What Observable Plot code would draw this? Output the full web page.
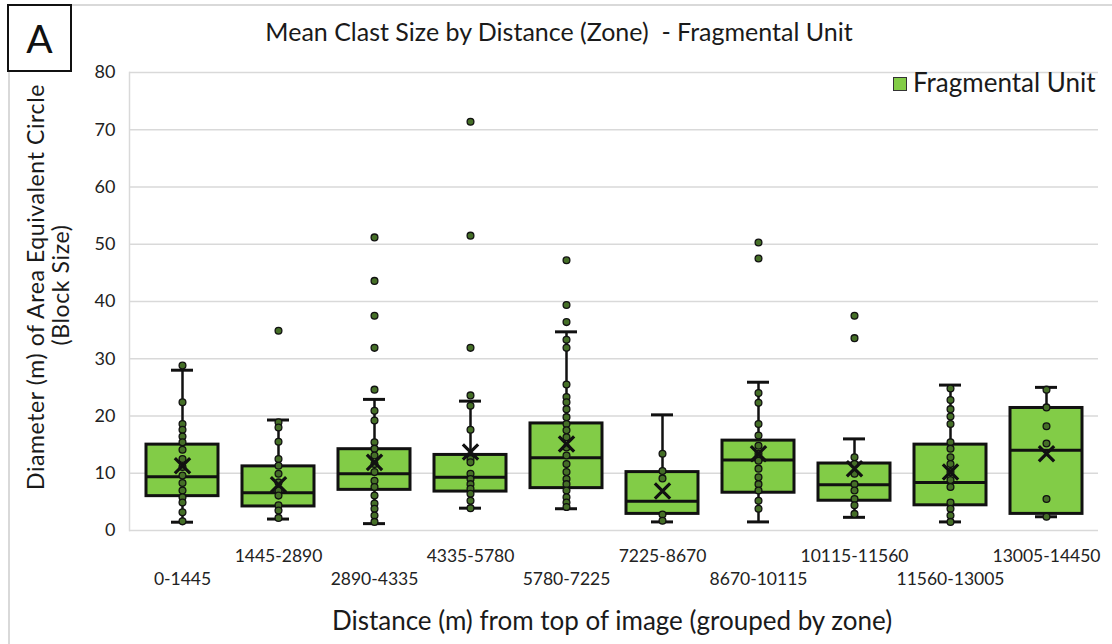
<!DOCTYPE html>
<html>
<head>
<meta charset="utf-8">
<script src="https://cdn.jsdelivr.net/npm/d3@7"></script>
<script src="https://cdn.jsdelivr.net/npm/@observablehq/plot@0.6"></script>
<style>
  html, body { margin: 0; padding: 0; background: #fff; }
  #wrap { position: relative; width: 1112px; height: 644px; overflow: hidden; background: #fff; font-family: Lato, "Open Sans", sans-serif; color: #1a1a1a; }
  #chart { position: absolute; left: 0; top: 0; }
  .abs { position: absolute; line-height: 1; white-space: pre; }
  #frame { position: absolute; left: 8px; top: 4px; width: 1300px; height: 800px; border-top: 2px solid #d9d9d9; border-left: 2px solid #d9d9d9; }
  #panel { position: absolute; left: 7px; top: 4px; width: 65px; height: 68px; box-sizing: border-box; border: 2.5px solid #111; background: #fff; font-size: 39px; display: flex; align-items: center; justify-content: center; color: #111; }
  #title { left: 559px; top: 19px; transform: translateX(-50%); font-size: 25px; }
  #legend-swatch { position: absolute; left: 893px; top: 77px; width: 14px; height: 14px; box-sizing: border-box; background: #82cc47; border: 1.5px solid #333; }
  #legend-text { left: 913px; top: 69px; font-size: 26px; }
  .ytitle { position: absolute; font-size: 23px; letter-spacing: 0.6px; line-height: 1; white-space: pre; transform: translate(-50%, -50%) rotate(-90deg); }
  #xtitle { left: 612px; top: 607px; transform: translateX(-50%); font-size: 26px; }
</style>
</head>
<body>
<div id="wrap">
  <div id="frame"></div>
  <div id="chart"></div>
  <div id="panel">A</div>
  <div id="title" class="abs">Mean Clast Size by Distance (Zone)  - Fragmental Unit</div>
  <div id="legend-swatch"></div>
  <div id="legend-text" class="abs">Fragmental Unit</div>
  <div class="ytitle" style="left:35px; top:287px;">Diameter (m) of Area Equivalent Circle</div>
  <div class="ytitle" style="left:60px; top:285px;">(Block Size)</div>
  <div id="xtitle" class="abs">Distance (m) from top of image (grouped by zone)</div>
</div>
<script>
// Zones (x categories)
const categories = ["0-1445", "1445-2890", "2890-4335", "4335-5780", "5780-7225",
                    "7225-8670", "8670-10115", "10115-11560", "11560-13005", "13005-14450"];
// Box statistics
const q1          = [6.0, 4.2, 7.1, 6.8, 7.4, 2.9, 6.6, 5.2, 4.4, 2.9];
const median      = [9.4, 6.6, 9.9, 9.3, 12.7, 5.1, 12.3, 8.0, 8.4, 14.0];
const q3          = [15.0, 11.2, 14.2, 13.2, 18.7, 10.2, 15.7, 11.7, 15.0, 21.4];
const whiskerLow  = [1.45, 2.0, 1.2, 3.9, 3.8, 1.5, 1.5, 2.3, 1.5, 2.4];
const whiskerHigh = [28.0, 19.3, 22.9, 22.6, 34.7, 20.2, 25.9, 16.0, 25.4, 25.0];
const meanValues  = [11.3, 8.0, 11.9, 13.7, 15.1, 6.9, 13.4, 10.8, 10.2, 13.4];
// Individual clast points per zone (inner points and outliers)
const pts0 = [28.8, 22.4, 18.6, 17.6, 16.4, 15.4, 14.1, 12.5, 11.1, 9.6, 8.3, 7.0, 5.8, 4.9, 3.2, 1.6];
const pts1 = [34.9, 18.9, 18.0, 15.5, 12.5, 11.3, 9.9, 8.4, 7.0, 6.1, 4.4, 3.5, 2.2];
const pts2 = [51.2, 43.6, 37.5, 31.9, 24.6, 20.9, 19.2, 15.4, 14.3, 13.1, 11.6, 10.2, 8.7, 7.6, 6.1, 4.7, 3.8, 2.6, 1.5];
const pts3 = [71.4, 51.5, 31.9, 23.6, 21.8, 17.6, 12.5, 11.9, 9.9, 9.0, 8.1, 7.3, 6.4, 5.2, 3.9];
const pts4 = [47.2, 39.4, 36.4, 33.3, 31.9, 25.5, 23.3, 22.4, 21.2, 19.8, 18.6, 17.5, 16.3, 14.5, 13.1, 11.6, 10.2, 9.0, 8.1, 7.0, 5.8, 4.9, 4.1];
const pts5 = [13.4, 10.4, 9.1, 2.8, 1.7];
const pts6 = [50.3, 47.5, 24.0, 22.3, 18.6, 16.6, 14.8, 13.4, 12.2, 10.8, 9.3, 8.1, 7.0, 5.2, 3.8];
const pts7 = [37.5, 33.6, 12.8, 11.6, 9.9, 8.1, 7.0, 5.5, 4.4, 2.9];
const pts8 = [24.8, 22.8, 21.2, 19.9, 18.6, 15.4, 14.3, 12.8, 11.6, 10.2, 8.8, 7.6, 4.9, 3.8, 2.6, 1.5];
const pts9 = [24.6, 21.5, 18.2, 15.2, 5.5, 2.4];
const pointSets = [pts0, pts1, pts2, pts3, pts4, pts5, pts6, pts7, pts8, pts9];
const yTicks = [0, 10, 20, 30, 40, 50, 60, 70, 80];

const stats = categories.map((zone, i) => ({
  zone, q1: q1[i], median: median[i], q3: q3[i],
  lo: whiskerLow[i], hi: whiskerHigh[i], mean: meanValues[i]
}));
const points = pointSets.flatMap((arr, i) => arr.map(v => ({zone: categories[i], value: v})));

const boxFill = "#82cc47";
const ink = "#111";

const chart = Plot.plot({
  width: 1112,
  height: 644,
  marginLeft: 129,
  marginRight: 14,
  marginTop: 72,
  marginBottom: 114,
  style: {fontFamily: "Lato, 'Open Sans', sans-serif", background: "transparent", overflow: "visible"},
  x: {domain: categories, paddingInner: 0.25, paddingOuter: 0.125, label: null},
  y: {domain: [0, 80], label: null},
  marks: [
    Plot.gridY(yTicks, {stroke: "#d9d9d9", strokeOpacity: 1, strokeWidth: 1.5}),
    Plot.frame({anchor: "left", stroke: "#d9d9d9", strokeWidth: 1.5}),
    Plot.axisY(yTicks, {tickSize: 0, tickPadding: 14, fontSize: 18, color: "#222", label: null}),
    Plot.axisX(categories.filter((d, i) => i % 2 === 1), {tickSize: 0, tickPadding: 19, fontSize: 17.5, color: "#222", label: null}),
    Plot.axisX(categories.filter((d, i) => i % 2 === 0), {tickSize: 0, tickPadding: 42, fontSize: 17.5, color: "#222", label: null}),
    Plot.ruleX(stats, {x: "zone", y1: "lo", y2: "hi", stroke: ink, strokeWidth: 2.5}),
    Plot.barY(stats, {x: "zone", y1: "q1", y2: "q3", fill: boxFill, stroke: ink, strokeWidth: 3}),
    Plot.tickY(stats, {x: "zone", y: "median", stroke: ink, strokeWidth: 3}),
    Plot.tickY(stats, {x: "zone", y: "lo", stroke: ink, strokeWidth: 3, insetLeft: 25, insetRight: 25}),
    Plot.tickY(stats, {x: "zone", y: "hi", stroke: ink, strokeWidth: 3, insetLeft: 25, insetRight: 25}),
    Plot.dot(points, {x: "zone", y: "value", r: 3.4, fill: "#456f27", stroke: ink, strokeWidth: 1.3}),
    Plot.dot(stats, {x: "zone", y: "mean", symbol: "times", r: 7, stroke: ink, strokeWidth: 3.2})
  ]
});
document.getElementById("chart").appendChild(chart);
</script>
</body>
</html>
